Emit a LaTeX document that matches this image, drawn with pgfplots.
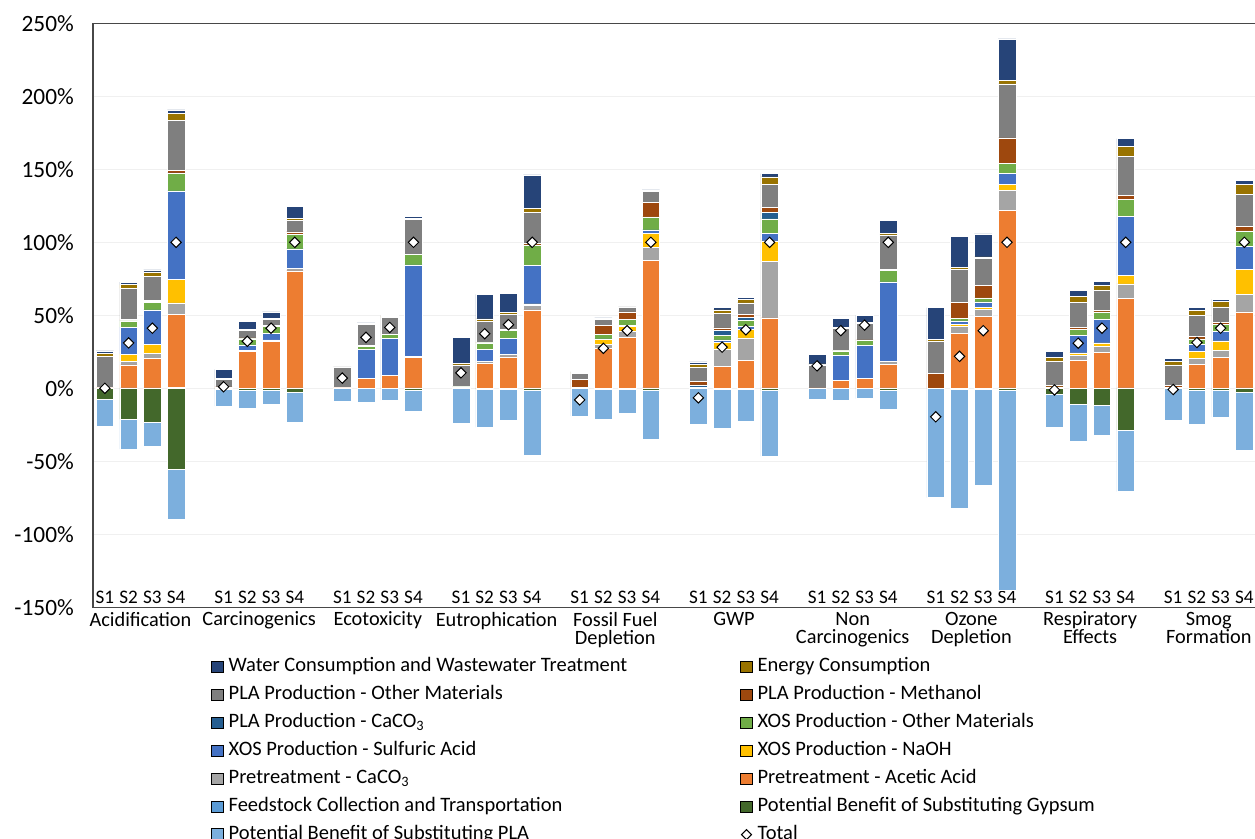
\documentclass[border=0pt]{standalone}
\usepackage{pgfplots}
\pgfplotsset{compat=1.18}
\usepackage{pgfplotstable}
\usepackage{fontspec}
\setmainfont{Carlito}

\definecolor{cWater}{HTML}{264478}
\definecolor{cEnergy}{HTML}{997300}
\definecolor{cPlaOth}{HTML}{7F7F7F}
\definecolor{cMeth}{HTML}{9E480E}
\definecolor{cPlaCaco}{HTML}{255E91}
\definecolor{cXosOth}{HTML}{70AD47}
\definecolor{cSulf}{HTML}{4472C4}
\definecolor{cNaoh}{HTML}{FFC000}
\definecolor{cPreCaco}{HTML}{A5A5A5}
\definecolor{cAcetic}{HTML}{ED7D31}
\definecolor{cFeed}{HTML}{5B9BD5}
\definecolor{cGyp}{HTML}{43682B}
\definecolor{cPlaBen}{HTML}{7CAFDD}

% Relative contributions (%) per impact category; x = 5*category + scenario
\pgfplotstableread{
x feed acetic precaco naoh sulf xosoth placaco meth plaoth energy water gyp plaben total
0 0 0.3 0 0 0 0 0 0.6 20.9 1.9 1.9 -7.6 -18.4 0.0
1 0.3 15.7 2.4 5.1 18.4 4.3 0.3 0.8 21.1 2.7 1.6 -21.1 -20.6 31.1
2 0.3 20.3 3.3 6.0 23.8 5.4 0.3 0.8 16.5 3.0 1.4 -23.3 -16.3 41.2
3 0.5 50.1 7.9 16.3 60.4 11.9 0.5 1.9 33.9 4.9 2.4 -55.3 -34.1 100
5 0 0.5 0 0 0 0 0 0.5 5.2 0.8 6.0 -0.3 -11.9 1.1
6 0.2 25.2 0.8 0 3.5 4.1 0 0.8 5.1 0.5 5.7 -1.1 -12.5 32.2
7 0.2 32.2 0.8 0 4.6 4.6 0 0.8 4.1 0.5 4.6 -1.6 -9.5 41.2
8 0.3 80.2 1.6 0 13.5 10.0 0 1.6 7.9 1.4 8.1 -2.4 -21.1 100
10 0 0.3 0 0 0 0 0 0.2 14.2 0.3 0.7 0 -8.7 7.0
11 0.2 6.5 0 0 19.8 2.4 0 0.3 14.4 0.8 0.5 -0.2 -9.5 34.9
12 0.2 8.7 0 0 25.2 2.7 0 0.3 11.6 0.8 0.3 -0.2 -7.9 41.7
13 0.3 21.1 0.3 0 62.8 7.0 0 0.5 23.8 0.8 1.1 -1.1 -14.9 100
15 0 0.5 0 0 0 0.5 0 0.2 14.9 1.1 17.6 0 -24.1 10.6
16 0.2 16.8 1.4 0 8.1 4.6 0 0.5 14.4 1.6 16.8 -0.3 -26.5 37.4
17 0.2 21.4 1.6 0 10.8 5.7 0 0.5 10.6 1.4 13.0 -0.3 -21.7 43.6
18 0.3 53.4 3.3 0.8 26.3 14.1 0 1.1 21.4 2.7 22.8 -1.6 -43.9 100
20 0 0.5 0 0 0 0 0 5.5 4.1 0.8 0.5 0 -19.0 -7.9
21 0.2 27.1 3.0 3.0 0.5 3.3 0 6.0 4.3 0.5 0.3 -0.3 -20.6 27.4
22 0.2 34.9 4.1 3.3 0.8 4.1 0 4.9 3.5 0.5 0.3 -0.3 -16.8 39.5
23 0.3 87.2 8.9 9.5 2.7 8.9 0 9.8 7.6 0.5 0.5 -1.6 -33.6 100
25 0 0.5 0 0 0 0 1.9 2.4 9.8 1.9 1.6 0 -24.9 -6.5
26 0.2 14.9 11.9 4.3 1.9 3.3 3.3 1.6 10.0 2.4 1.6 -0.3 -27.0 28.2
27 0.2 19.2 15.2 6.0 1.9 4.3 1.9 1.9 7.9 2.4 1.4 -0.3 -22.2 40.1
28 0.3 47.9 39.0 13.8 5.1 10.0 4.3 3.5 16.0 4.9 2.2 -1.6 -45.0 100
30 0 0.3 0 0 0 0 0 0 15.7 0.8 6.5 0 -7.3 15.4
31 0.2 5.4 0 0 16.8 3.3 0 0.5 14.9 0.8 6.0 -0.2 -8.1 39.5
32 0.2 6.5 0.3 0 22.2 3.5 0 0.5 11.4 0.5 4.9 -0.2 -6.8 43.3
33 0.3 16.0 2.2 0 54.4 7.9 0 0.5 23.8 1.1 8.9 -1.6 -12.7 100
35 0 0 0 0 0 0 0 10.0 22.2 1.1 21.9 0 -74.8 -19.5
36 0.2 37.6 4.6 1.4 2.4 1.9 0 10.6 23.0 1.4 21.1 -0.3 -82.1 21.9
37 0.2 49.0 4.9 1.6 3.5 2.7 0 8.4 18.7 1.1 15.7 -0.3 -66.1 39.5
38 0.3 121.6 13.5 4.1 7.9 6.8 0 17.3 37.1 2.4 28.4 -1.6 -136.8 100
40 0 0.5 0 0 0 0.5 0 1.1 16.4 2.7 4.3 -3.8 -22.8 -1.1
41 0.2 19.2 3.0 1.9 12.2 4.1 0 1.4 16.8 4.1 4.1 -10.8 -25.2 30.9
42 0.2 24.6 4.1 2.2 16.3 4.9 0 1.1 13.8 3.5 2.7 -11.9 -20.3 41.2
43 0.3 61.2 10.0 5.7 40.4 11.9 0 2.7 26.5 7.0 5.4 -28.7 -42.0 100
45 0 0.5 0 0 0 0 0 1.4 14.1 2.7 1.9 0 -21.7 -0.8
46 0.2 16.3 4.1 4.9 4.6 3.8 0 1.9 14.1 3.5 2.2 -1.1 -23.3 31.4
47 0.2 20.9 4.9 6.5 6.5 4.6 0 1.4 10.8 3.8 1.4 -1.1 -18.7 41.2
48 0.3 52.0 11.9 17.1 15.7 10.8 0 3.0 21.9 7.0 2.7 -3.0 -39.3 100
}\lcadata

\pgfplotsset{
  lcabox/.style={scale only axis, width=712.2pt, height=350.4pt,
    xmin=-0.5, xmax=49.5, ymin=-150, ymax=250},
  seg/.style={fill=#1, draw=white, line width=0.3pt},
}
\tikzset{catlabel/.style={anchor=north, align=center, inner sep=0pt,
    yshift=-2.6pt, font=\fontsize{12.2}{10.8}\selectfont}}

\begin{document}
\begin{tikzpicture}
% positive contributions
\begin{axis}[lcabox, name=main, clip=false,
  ybar stacked, bar width=0.74,
  axis line style={black!72, line width=0.9pt},
  major tick length=0pt,
  ymajorgrids, grid style={black!6, line width=0.6pt},
  ytick={-150,-100,...,250},
  yticklabels={-150\%,-100\%,-50\%,0\%,50\%,100\%,150\%,200\%,250\%},
  yticklabel style={font=\fontsize{14}{16}\selectfont, xshift=-8pt},
  xtick={0,1,2,3,5,6,7,8,10,11,12,13,15,16,17,18,20,21,22,23,25,26,27,28,30,31,32,33,35,36,37,38,40,41,42,43,45,46,47,48},
  xticklabels={S1,S2,S3,S4,S1,S2,S3,S4,S1,S2,S3,S4,S1,S2,S3,S4,S1,S2,S3,S4,S1,S2,S3,S4,S1,S2,S3,S4,S1,S2,S3,S4,S1,S2,S3,S4,S1,S2,S3,S4},
  xticklabel style={font=\fontsize{11.5}{12}\selectfont, anchor=base, yshift=2.4pt},
]
\addplot[seg=cFeed] table[x=x,y=feed]{\lcadata};
\addplot[seg=cAcetic] table[x=x,y=acetic]{\lcadata};
\addplot[seg=cPreCaco] table[x=x,y=precaco]{\lcadata};
\addplot[seg=cNaoh] table[x=x,y=naoh]{\lcadata};
\addplot[seg=cSulf] table[x=x,y=sulf]{\lcadata};
\addplot[seg=cXosOth] table[x=x,y=xosoth]{\lcadata};
\addplot[seg=cPlaCaco] table[x=x,y=placaco]{\lcadata};
\addplot[seg=cMeth] table[x=x,y=meth]{\lcadata};
\addplot[seg=cPlaOth] table[x=x,y=plaoth]{\lcadata};
\addplot[seg=cEnergy] table[x=x,y=energy]{\lcadata};
\addplot[seg=cWater] table[x=x,y=water]{\lcadata};
% impact categories under the scenario labels
\node[catlabel] at (axis cs:1.5,-150) {Acidification};
\node[catlabel] at (axis cs:6.5,-150) {Carcinogenics};
\node[catlabel] at (axis cs:11.5,-150) {Ecotoxicity};
\node[catlabel] at (axis cs:16.5,-150) {Eutrophication};
\node[catlabel] at (axis cs:21.5,-150) {Fossil Fuel\\Depletion};
\node[catlabel] at (axis cs:26.5,-150) {GWP};
\node[catlabel] at (axis cs:31.5,-150) {Non\\Carcinogenics};
\node[catlabel] at (axis cs:36.5,-150) {Ozone\\Depletion};
\node[catlabel] at (axis cs:41.5,-150) {Respiratory\\Effects};
\node[catlabel] at (axis cs:46.5,-150) {Smog\\Formation};
\end{axis}

% credits (negative contributions)
\begin{axis}[lcabox, hide axis, ybar stacked, bar width=0.74]
\addplot[seg=cGyp] table[x=x,y=gyp]{\lcadata};
\addplot[seg=cPlaBen] table[x=x,y=plaben]{\lcadata};
\end{axis}

% net totals and legend
\begin{axis}[lcabox, hide axis,
  legend columns=2,
  legend cell align=left,
  legend image code/.code={\fill[#1] (0pt,-3.5pt) rectangle (7pt,3.5pt);},
  legend style={at={(0,0)}, anchor=north west, xshift=70.8pt, yshift=-29.9pt,
    draw=none, fill=none, inner xsep=0pt, inner ysep=0pt, row sep=5.8pt,
    font=\fontsize{12.3}{14}\selectfont,
    nodes={inner sep=0pt, text height=8.6pt, text depth=2.4pt},
    /tikz/column 1/.style={column sep=3pt},
    /tikz/column 2/.style={column sep=67.8pt},
    /tikz/column 3/.style={column sep=3pt}},
]
\addplot[only marks, mark=square*, mark size=2.2pt, forget plot,
  mark options={rotate=45, fill=white, draw=black, line width=0.6pt}]
  table[x=x,y=total]{\lcadata};
\addlegendimage{fill=cWater}
\addlegendimage{fill=cEnergy}
\addlegendimage{fill=cPlaOth}
\addlegendimage{fill=cMeth}
\addlegendimage{fill=cPlaCaco}
\addlegendimage{fill=cXosOth}
\addlegendimage{fill=cSulf}
\addlegendimage{fill=cNaoh}
\addlegendimage{fill=cPreCaco}
\addlegendimage{fill=cAcetic}
\addlegendimage{fill=cFeed}
\addlegendimage{fill=cGyp}
\addlegendimage{fill=cPlaBen}
\addlegendimage{legend image code/.code={\draw[black, fill=white, line width=0.6pt]
  (0.5pt,0pt) -- (3.5pt,3pt) -- (6.5pt,0pt) -- (3.5pt,-3pt) -- cycle;}}
\legend{Water Consumption and Wastewater Treatment, Energy Consumption,
  PLA Production - Other Materials, PLA Production - Methanol,
  PLA Production - CaCO\textsubscript{3}, XOS Production - Other Materials,
  XOS Production - Sulfuric Acid, XOS Production - NaOH,
  Pretreatment - CaCO\textsubscript{3}, Pretreatment - Acetic Acid,
  Feedstock Collection and Transportation, Potential Benefit of Substituting Gypsum,
  Potential Benefit of Substituting PLA, Total}
\end{axis}

\pgfresetboundingbox
\path[use as bounding box] ([shift={(-55.8pt,-138.6pt)}]main.south west)
  rectangle ([shift={(697.2pt,14pt)}]main.north west);
\end{tikzpicture}
\end{document}
